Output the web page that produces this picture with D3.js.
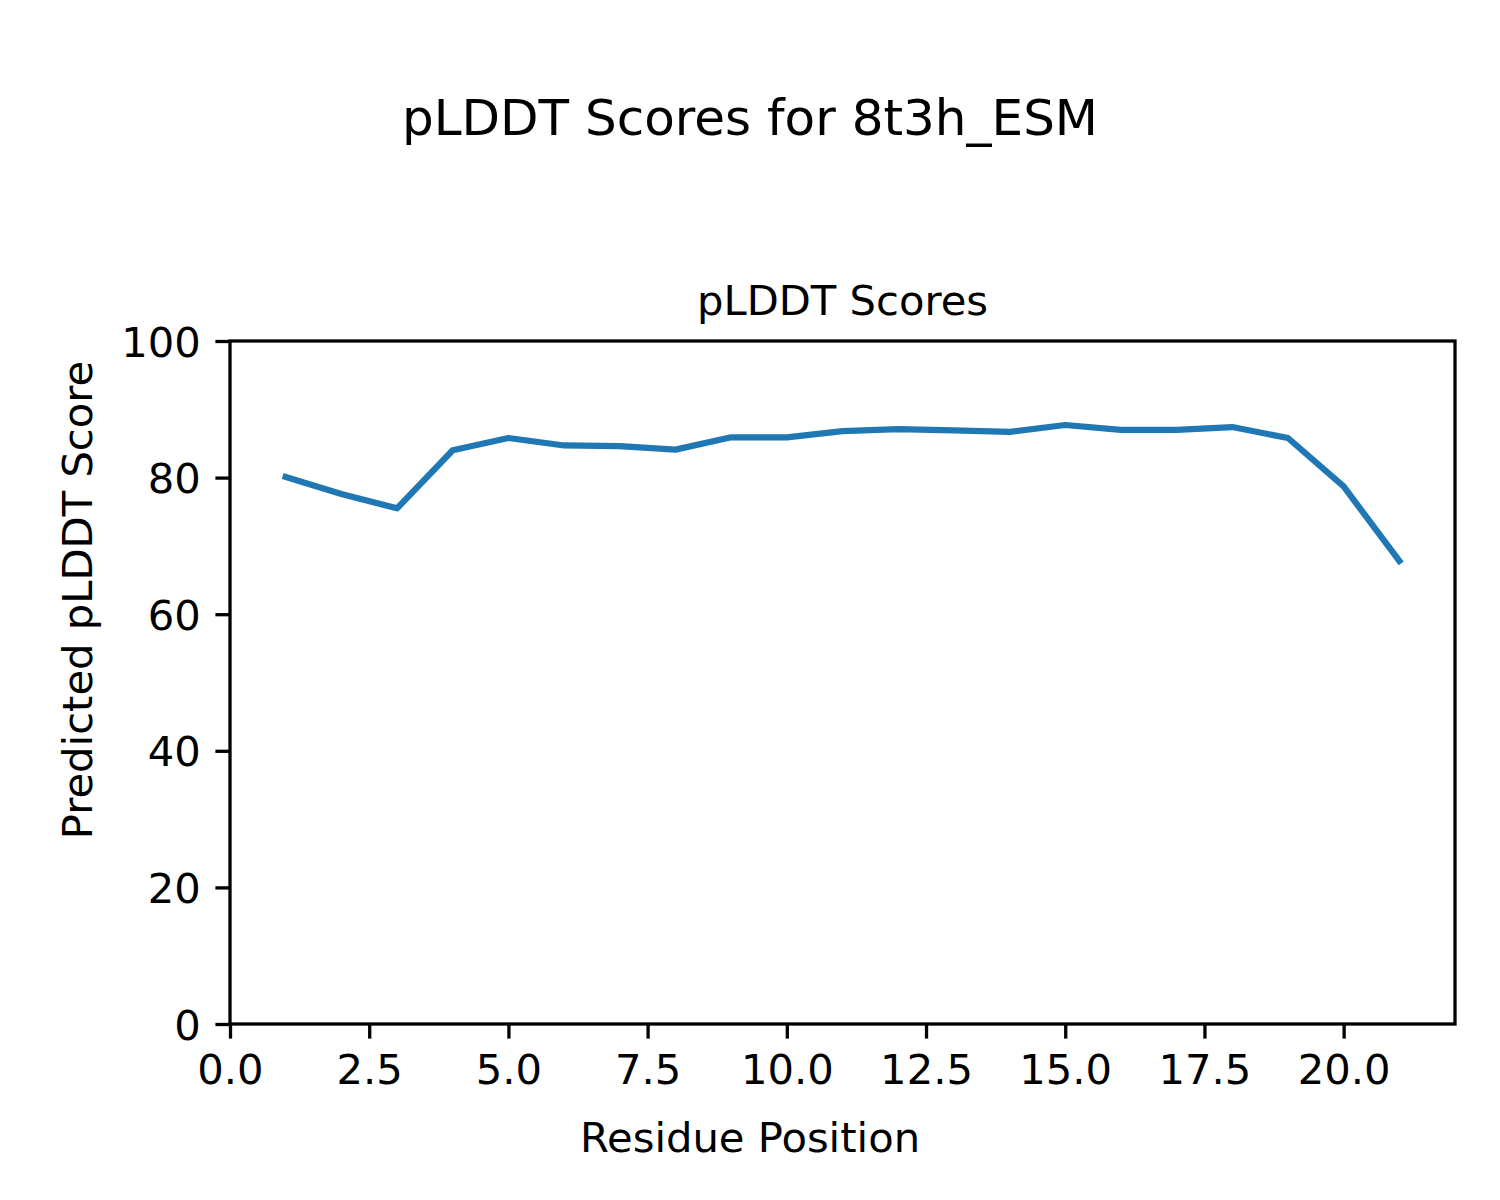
<!DOCTYPE html>
<html><head><meta charset="utf-8">
<script src="https://cdn.jsdelivr.net/npm/d3@7"></script>
<style>body{margin:0;background:#fff}svg{display:block}text{font-family:"DejaVu Sans",sans-serif;fill:#000}</style>
</head><body>
<script>
const residues = [1,2,3,4,5,6,7,8,9,10,11,12,13,14,15,16,17,18,19,20,21];
const plddt = [80.1,77.6,75.5,84.0,85.8,84.7,84.6,84.1,85.9,85.9,86.8,87.1,86.9,86.7,87.7,87.0,87.0,87.4,85.8,78.7,67.8];
const xTicks = [0,2.5,5,7.5,10,12.5,15,17.5,20];
const yTicks = [0,20,40,60,80,100];
const suptitle = "pLDDT Scores for 8t3h_ESM";
const axTitle = "pLDDT Scores";
const xLabel = "Residue Position";
const yLabel = "Predicted pLDDT Score";

const W=1500,H=1200;
const L=230,R=1455,T=341,B=1024;
const svg=d3.select("body").append("svg").attr("width",W).attr("height",H);
svg.append("rect").attr("width",W).attr("height",H).attr("fill","#fff");
const x=d3.scaleLinear().domain([0,22]).range([L,R]);
const y=d3.scaleLinear().domain([0,100]).range([B,T]);
const tickFont=41.7, tickLen=14.6, pad=14.6;

const line=d3.line().x((d,i)=>x(residues[i])).y(d=>y(d));
svg.append("path").datum(plddt).attr("d",line).attr("fill","none")
  .attr("stroke","#1f77b4").attr("stroke-width",6.25).attr("stroke-linejoin","round").attr("stroke-linecap","square");

const xa=svg.append("g").attr("transform",`translate(0,${B})`)
  .call(d3.axisBottom(x).tickValues(xTicks).tickFormat(d3.format(".1f")).tickSize(tickLen).tickPadding(pad));
const ya=svg.append("g").attr("transform",`translate(${L},0)`)
  .call(d3.axisLeft(y).tickValues(yTicks).tickFormat(d3.format("d")).tickSize(tickLen).tickPadding(pad));
[xa,ya].forEach(g=>{
  g.select(".domain").remove();
  g.selectAll(".tick line").attr("stroke","#000").attr("stroke-width",3.3);
  g.selectAll(".tick text").attr("font-size",tickFont).attr("font-family","DejaVu Sans").attr("fill","#000");
});
xa.selectAll(".tick text").attr("dy",null).attr("y",tickLen+pad).attr("dominant-baseline","hanging");
ya.selectAll(".tick text").attr("dy","0.36em");
svg.append("rect").attr("x",L).attr("y",T).attr("width",R-L).attr("height",B-T)
  .attr("fill","none").attr("stroke","#000").attr("stroke-width",3.3);

svg.append("text").attr("x",750).attr("y",135).attr("text-anchor","middle").attr("font-size",50).text(suptitle);
svg.append("text").attr("x",(L+R)/2).attr("y",315).attr("text-anchor","middle").attr("font-size",41.7).text(axTitle);
svg.append("text").attr("x",750).attr("y",1152).attr("text-anchor","middle").attr("font-size",tickFont).text(xLabel);
svg.append("text").attr("transform",`translate(92,600) rotate(-90)`).attr("text-anchor","middle").attr("font-size",tickFont).text(yLabel);
</script>
</body></html>
